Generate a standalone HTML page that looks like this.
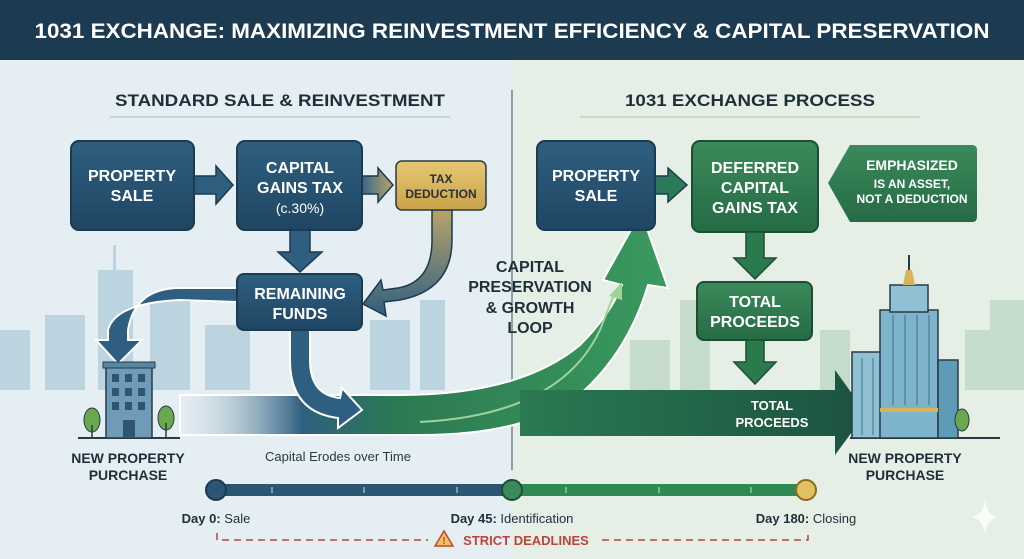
<!DOCTYPE html>
<html><head><meta charset="utf-8"><style>
html,body{margin:0;padding:0;width:1024px;height:559px;overflow:hidden;font-family:"Liberation Sans",sans-serif}
</style></head><body>
<svg width="1024" height="559" viewBox="0 0 1024 559" xmlns="http://www.w3.org/2000/svg" font-family="Liberation Sans, sans-serif">
<defs>
<linearGradient id="bl" x1="0" y1="0" x2="0" y2="1"><stop offset="0" stop-color="#2f5f80"/><stop offset="1" stop-color="#1f4663"/></linearGradient>
<linearGradient id="gr" x1="0" y1="0" x2="0" y2="1"><stop offset="0" stop-color="#3b8a5a"/><stop offset="1" stop-color="#256b45"/></linearGradient>
<linearGradient id="gold" x1="0" y1="0" x2="0" y2="1"><stop offset="0" stop-color="#e6c873"/><stop offset="1" stop-color="#c9a24a"/></linearGradient>
<linearGradient id="band" x1="0" y1="0" x2="1" y2="0"><stop offset="0" stop-color="#e2ecf1" stop-opacity="0.2"/><stop offset="0.25" stop-color="#2f5f80"/><stop offset="0.45" stop-color="#2c7a52"/><stop offset="1" stop-color="#3a9a5e"/></linearGradient>
<linearGradient id="tdc" x1="0" y1="0" x2="0" y2="1"><stop offset="0" stop-color="#b8a36a"/><stop offset="1" stop-color="#2f5f80"/></linearGradient>
<linearGradient id="tdarr" x1="0" y1="0" x2="1" y2="0"><stop offset="0" stop-color="#3a6585"/><stop offset="1" stop-color="#b8a56e"/></linearGradient>
<linearGradient id="rarr" x1="0" y1="0" x2="1" y2="0"><stop offset="0" stop-color="#2a7a52"/><stop offset="1" stop-color="#1c5240"/></linearGradient>
</defs>
<rect width="1024" height="559" fill="#e4eef3"/>
<rect x="512" y="0" width="512" height="559" fill="#e5efe6"/>
<!-- skyline -->
<g fill="#bcd3e0">
<rect x="0" y="330" width="30" height="60"/><rect x="45" y="315" width="40" height="75"/><rect x="98" y="270" width="35" height="120"/><rect x="113" y="245" width="3" height="25"/><rect x="150" y="300" width="40" height="90"/><rect x="205" y="325" width="45" height="65"/><rect x="370" y="320" width="40" height="70"/><rect x="420" y="300" width="25" height="90"/>
</g>
<g fill="#c5dccb">
<rect x="630" y="340" width="40" height="50"/><rect x="680" y="300" width="30" height="90"/><rect x="820" y="330" width="30" height="60"/><rect x="965" y="330" width="30" height="60"/><rect x="990" y="300" width="34" height="90"/>
</g>
<!-- title -->
<rect x="0" y="0" width="1024" height="60" fill="#1c3a50"/>
<text x="512" y="38" text-anchor="middle" fill="#fff" font-size="21" font-weight="bold" textLength="955" lengthAdjust="spacingAndGlyphs">1031 EXCHANGE: MAXIMIZING REINVESTMENT EFFICIENCY &amp; CAPITAL PRESERVATION</text>
<line x1="512" y1="90" x2="512" y2="470" stroke="#6d8795" stroke-width="1.5"/>
<text x="280" y="106" text-anchor="middle" fill="#1f2f3a" font-size="17" font-weight="bold" textLength="330" lengthAdjust="spacingAndGlyphs">STANDARD SALE &amp; REINVESTMENT</text>
<line x1="110" y1="117" x2="450" y2="117" stroke="#b8cbd6" stroke-width="1.5"/>
<text x="750" y="106" text-anchor="middle" fill="#1f2f3a" font-size="17" font-weight="bold" textLength="250" lengthAdjust="spacingAndGlyphs">1031 EXCHANGE PROCESS</text>
<line x1="580" y1="117" x2="920" y2="117" stroke="#bcd5c2" stroke-width="1.5"/>

<!-- left arrows -->
<polygon points="194,176 216,176 216,166 233,185 216,204 216,194 194,194" fill="#2f5f80" stroke="#1c3a50" stroke-width="1.5"/>
<polygon points="362,176 378,176 378,168 393,185 378,202 378,194 362,194" fill="url(#tdarr)" stroke="#1c3a50" stroke-width="1.5"/>
<polygon points="290,230 310,230 310,252 322,252 300,272 278,252 290,252" fill="#2f5f80" stroke="#1c3a50" stroke-width="1.5"/>
<path d="M432,210 L452,210 L452,240 Q452,290 400,300 L384,302 L386,316 L363,304 L381,280 L383,290 L398,288 Q432,282 432,240 Z" fill="url(#tdc)" stroke="#1c3a50" stroke-width="1.5"/>
<path d="M237,288 L180,288 Q135,288 128,330 L128,340 L142,340 L118,364 L96,340 L108,340 L108,330 Q115,303 180,300 L237,302 Z" fill="#2f5f80" stroke="#fff" stroke-width="2"/>
<!-- green band -->
<path d="M180,395 L400,395 Q520,395 580,345 Q610,315 622,285 L603,280 L641,212 L668,288 L648,285 Q630,345 590,385 Q540,435 420,435 L180,435 Z" fill="url(#band)" stroke="#fff" stroke-width="2"/>
<path d="M420,422 Q560,415 600,330 L615,292" fill="none" stroke="#9fd39a" stroke-width="2"/>
<polygon points="609,296 622,282 622,300" fill="#9fd39a"/>
<path d="M290,330 L310,330 L310,360 Q310,395 340,398 L342,388 L362,410 L338,428 L338,418 Q290,412 290,360 Z" fill="#2f5f80" stroke="#fff" stroke-width="2"/>
<!-- right horizontal arrow -->
<polygon points="520,390 835,390 835,370 866,413 835,455 835,436 520,436" fill="url(#rarr)"/>
<text x="772" y="410" text-anchor="middle" fill="#fff" font-size="13" font-weight="bold">TOTAL</text>
<text x="772" y="427" text-anchor="middle" fill="#fff" font-size="13" font-weight="bold">PROCEEDS</text>

<!-- left boxes -->
<rect x="71" y="141" width="123" height="89" rx="8" fill="url(#bl)" stroke="#1c3a50" stroke-width="2"/>
<text x="132" y="181" text-anchor="middle" fill="#fff" font-size="16" font-weight="bold">PROPERTY</text>
<text x="132" y="201" text-anchor="middle" fill="#fff" font-size="16" font-weight="bold">SALE</text>
<rect x="237" y="141" width="125" height="89" rx="8" fill="url(#bl)" stroke="#1c3a50" stroke-width="2"/>
<text x="300" y="173" text-anchor="middle" fill="#fff" font-size="16" font-weight="bold">CAPITAL</text>
<text x="300" y="193" text-anchor="middle" fill="#fff" font-size="16" font-weight="bold">GAINS TAX</text>
<text x="300" y="213" text-anchor="middle" fill="#fff" font-size="14">(c.30%)</text>
<rect x="396" y="161" width="90" height="49" rx="6" fill="url(#gold)" stroke="#2a3a40" stroke-width="1.5"/>
<text x="441" y="183" text-anchor="middle" fill="#2a3038" font-size="12" font-weight="bold">TAX</text>
<text x="441" y="198" text-anchor="middle" fill="#2a3038" font-size="12" font-weight="bold">DEDUCTION</text>
<rect x="237" y="274" width="125" height="56" rx="7" fill="url(#bl)" stroke="#1c3a50" stroke-width="2"/>
<text x="300" y="299" text-anchor="middle" fill="#fff" font-size="16" font-weight="bold">REMAINING</text>
<text x="300" y="319" text-anchor="middle" fill="#fff" font-size="16" font-weight="bold">FUNDS</text>

<text x="530" y="272" text-anchor="middle" fill="#1f2f3a" font-size="16" font-weight="bold">CAPITAL</text>
<text x="530" y="292" text-anchor="middle" fill="#1f2f3a" font-size="16" font-weight="bold">PRESERVATION</text>
<text x="530" y="313" text-anchor="middle" fill="#1f2f3a" font-size="16" font-weight="bold">&amp; GROWTH</text>
<text x="530" y="333" text-anchor="middle" fill="#1f2f3a" font-size="16" font-weight="bold">LOOP</text>

<!-- right boxes -->
<polygon points="655,176 668,176 668,168 687,185 668,202 668,194 655,194" fill="#2a7a5a" stroke="#1c3a50" stroke-width="1.5"/>
<rect x="537" y="141" width="118" height="89" rx="8" fill="url(#bl)" stroke="#1c3a50" stroke-width="2"/>
<text x="596" y="181" text-anchor="middle" fill="#fff" font-size="16" font-weight="bold">PROPERTY</text>
<text x="596" y="201" text-anchor="middle" fill="#fff" font-size="16" font-weight="bold">SALE</text>
<rect x="692" y="141" width="126" height="91" rx="8" fill="url(#gr)" stroke="#1d4e35" stroke-width="2"/>
<text x="755" y="173" text-anchor="middle" fill="#fff" font-size="16" font-weight="bold">DEFERRED</text>
<text x="755" y="193" text-anchor="middle" fill="#fff" font-size="16" font-weight="bold">CAPITAL</text>
<text x="755" y="213" text-anchor="middle" fill="#fff" font-size="16" font-weight="bold">GAINS TAX</text>
<path d="M850,145 L972,145 Q977,145 977,150 L977,217 Q977,222 972,222 L850,222 L828,183 Z" fill="url(#gr)"/>
<text x="912" y="170" text-anchor="middle" fill="#fff" font-size="14" font-weight="bold">EMPHASIZED</text>
<text x="912" y="188" text-anchor="middle" fill="#fff" font-size="12" font-weight="bold">IS AN ASSET,</text>
<text x="912" y="203" text-anchor="middle" fill="#fff" font-size="12" font-weight="bold">NOT A DEDUCTION</text>
<polygon points="746,232 764,232 764,258 776,258 755,279 734,258 746,258" fill="#2a7a4c" stroke="#1d4e35" stroke-width="1.5"/>
<rect x="697" y="282" width="115" height="58" rx="7" fill="url(#gr)" stroke="#1d4e35" stroke-width="2"/>
<text x="755" y="307" text-anchor="middle" fill="#fff" font-size="16" font-weight="bold">TOTAL</text>
<text x="755" y="327" text-anchor="middle" fill="#fff" font-size="16" font-weight="bold">PROCEEDS</text>
<polygon points="746,340 764,340 764,362 776,362 755,384 734,362 746,362" fill="#2a7a4c" stroke="#1d4e35" stroke-width="1.5"/>

<!-- left building -->
<line x1="78" y1="438" x2="180" y2="438" stroke="#2a3a45" stroke-width="2"/>
<rect x="106" y="366" width="46" height="72" fill="#6e9cb8" stroke="#2a3a45" stroke-width="1.5"/>
<rect x="103" y="362" width="52" height="6" fill="#5a86a0" stroke="#2a3a45" stroke-width="1"/>
<g fill="#2f5570"><rect x="112" y="374" width="7" height="8"/><rect x="125" y="374" width="7" height="8"/><rect x="138" y="374" width="7" height="8"/><rect x="112" y="388" width="7" height="8"/><rect x="125" y="388" width="7" height="8"/><rect x="138" y="388" width="7" height="8"/><rect x="112" y="402" width="7" height="8"/><rect x="125" y="402" width="7" height="8"/><rect x="138" y="402" width="7" height="8"/><rect x="123" y="420" width="12" height="18"/></g>
<ellipse cx="92" cy="420" rx="8" ry="12" fill="#6aa84f" stroke="#2a3a45"/><line x1="92" y1="425" x2="92" y2="438" stroke="#2a3a45" stroke-width="1.5"/>
<ellipse cx="166" cy="418" rx="8" ry="12" fill="#6aa84f" stroke="#2a3a45"/><line x1="166" y1="423" x2="166" y2="438" stroke="#2a3a45" stroke-width="1.5"/>
<!-- right building -->
<line x1="850" y1="438" x2="1000" y2="438" stroke="#2a3a45" stroke-width="2"/>
<rect x="852" y="352" width="32" height="86" fill="#8fc0d4" stroke="#2a3a45" stroke-width="1.5"/>
<rect x="880" y="310" width="58" height="128" fill="#7eb3cc" stroke="#2a3a45" stroke-width="1.5"/>
<rect x="890" y="285" width="38" height="27" fill="#8fc0d4" stroke="#2a3a45" stroke-width="1.5"/>
<polygon points="903,285 915,285 912,270 906,270" fill="#d9b25a"/>
<line x1="909" y1="255" x2="909" y2="270" stroke="#2a3a45" stroke-width="2"/>
<rect x="938" y="360" width="20" height="78" fill="#5f9bb5" stroke="#2a3a45" stroke-width="1.5"/>
<rect x="880" y="408" width="58" height="4" fill="#d9b25a"/>
<g stroke="#3c6f88" stroke-width="1"><line x1="893" y1="315" x2="893" y2="405"/><line x1="905" y1="315" x2="905" y2="405"/><line x1="917" y1="315" x2="917" y2="405"/><line x1="929" y1="315" x2="929" y2="405"/><line x1="862" y1="358" x2="862" y2="435"/><line x1="873" y1="358" x2="873" y2="435"/></g>
<ellipse cx="962" cy="420" rx="7" ry="11" fill="#6aa84f" stroke="#2a3a45"/>

<text x="128" y="463" text-anchor="middle" fill="#1f2f3a" font-size="14" font-weight="bold">NEW PROPERTY</text>
<text x="128" y="480" text-anchor="middle" fill="#1f2f3a" font-size="14" font-weight="bold">PURCHASE</text>
<text x="905" y="463" text-anchor="middle" fill="#1f2f3a" font-size="14" font-weight="bold">NEW PROPERTY</text>
<text x="905" y="480" text-anchor="middle" fill="#1f2f3a" font-size="14" font-weight="bold">PURCHASE</text>
<text x="338" y="461" text-anchor="middle" fill="#2a3a45" font-size="13">Capital Erodes over Time</text>

<!-- timeline -->
<rect x="215" y="484" width="297" height="12" fill="#2a5573"/>
<rect x="512" y="484" width="293" height="12" fill="#2f8a52"/>
<g stroke="#cfe0e6" stroke-width="1"><line x1="272" y1="487" x2="272" y2="493"/><line x1="364" y1="487" x2="364" y2="493"/><line x1="457" y1="487" x2="457" y2="493"/><line x1="566" y1="487" x2="566" y2="493"/><line x1="659" y1="487" x2="659" y2="493"/><line x1="751" y1="487" x2="751" y2="493"/></g>
<circle cx="216" cy="490" r="10" fill="#2a5573" stroke="#1c3a50" stroke-width="2"/>
<circle cx="512" cy="490" r="10" fill="#3a8a5a" stroke="#1d4e35" stroke-width="2"/>
<circle cx="806" cy="490" r="10" fill="#e0c060" stroke="#8a6a20" stroke-width="2"/>
<text x="216" y="523" text-anchor="middle" fill="#1f2f3a" font-size="13"><tspan font-weight="bold">Day 0:</tspan> Sale</text>
<text x="512" y="523" text-anchor="middle" fill="#1f2f3a" font-size="13"><tspan font-weight="bold">Day 45:</tspan> Identification</text>
<text x="806" y="523" text-anchor="middle" fill="#1f2f3a" font-size="13"><tspan font-weight="bold">Day 180:</tspan> Closing</text>
<path d="M217,533 L217,540 L428,540" fill="none" stroke="#b8473a" stroke-width="1.5" stroke-dasharray="7,5"/>
<path d="M602,540 L808,540 L808,533" fill="none" stroke="#b8473a" stroke-width="1.5" stroke-dasharray="7,5"/>
<polygon points="444,531 435,546 453,546" fill="#f2c060" stroke="#b8473a" stroke-width="1.5"/>
<text x="444" y="544" text-anchor="middle" fill="#b8473a" font-size="10" font-weight="bold">!</text>
<text x="526" y="545" text-anchor="middle" fill="#b8473a" font-size="13" font-weight="bold">STRICT DEADLINES</text>
<path d="M985,500 Q987,515 998,517 Q987,519 985,534 Q983,519 972,517 Q983,515 985,500 Z" fill="#ffffff" opacity="0.8"/>
</svg>
</body></html>
